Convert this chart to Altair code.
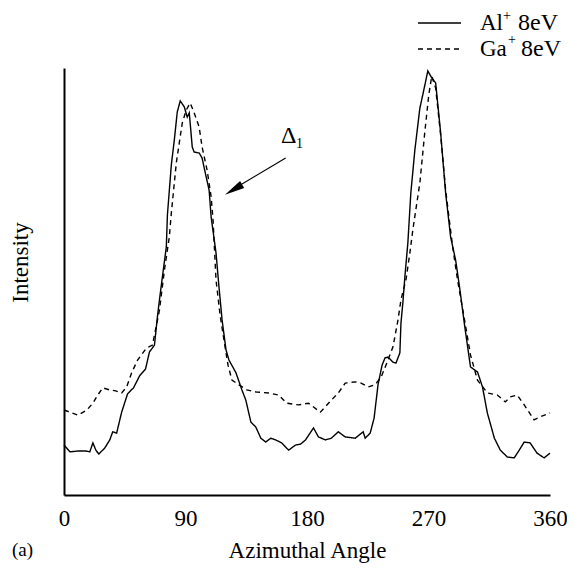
import altair as alt
import pandas as pd

# Al+ 8eV (solid)
al_angle = [0, 4.4, 10.3, 16.2, 19.1, 21.4, 23.6, 25.8, 30.2, 33.9, 36.1, 39.0, 42.7, 47.1, 51.5, 56.0,
            60.4, 63.3, 67.0, 69.2, 70.7, 72.9, 75.8, 76.6, 79.5, 81.7, 83.9, 86.1, 89.1, 91.3, 92.8,
            95.0, 96.4, 100.1, 102.3, 105.3, 107.5, 109.0, 112.6, 114.8, 117.1, 120.0, 122.2, 127.4,
            131.8, 134.7, 138.4, 142.1, 145.8, 149.5, 153.1, 156.8, 161.2, 166.4, 171.5, 175.2, 178.9,
            184.8, 188.5, 193.6, 198.0, 203.2, 208.3, 215.7, 221.6, 223.1, 226.8, 229.7, 232.6, 235.6,
            237.8, 240.0, 243.7, 245.9, 248.8, 249.6, 251.0, 252.5, 254.7, 256.9, 259.9, 263.6, 266.5,
            269.5, 272.4, 275.3, 279.0, 282.7, 286.4, 290.1, 293.0, 296.7, 301.1, 306.3, 310.0, 313.6,
            318.8, 323.2, 328.4, 333.5, 337.2, 340.9, 345.3, 350.4, 355.6, 360.0]
al_int = [11.7, 10.1, 10.3, 10.3, 10.1, 12.2, 10.5, 9.6, 11.0, 12.9, 14.8, 14.5, 19.4, 23.7, 25.1, 27.9,
          29.5, 33.5, 35.1, 41.7, 45.7, 51.1, 58.1, 65.6, 77.3, 83.1, 89.7, 92.3, 90.9, 88.5, 89.5,
          81.5, 80.3, 80.1, 78.9, 74.5, 71.4, 65.1, 56.7, 48.7, 41.0, 34.0, 31.6, 28.6,
          24.6, 22.2, 17.1, 15.9, 13.3, 12.4, 13.3, 12.9, 12.2, 10.5, 11.7, 11.9, 12.9,
          15.7, 13.6, 12.9, 13.3, 14.8, 13.6, 13.3, 14.8, 13.3, 14.5, 18.0, 25.8, 30.4,
          32.1, 32.3, 31.1, 30.9, 33.3, 40.3, 45.0, 51.1, 59.0, 70.7, 80.8, 90.6, 94.8,
          99.3, 97.7, 96.5, 84.8, 70.7, 60.4, 55.0, 48.7, 39.8, 30.0, 28.8, 25.3, 19.2,
          13.3, 10.5, 8.9, 8.7, 10.5, 12.4, 12.2, 9.8, 8.7, 9.8]

# Ga+ 8eV (dashed)
ga_angle = [0, 4.4, 10.3, 16.9, 21.4, 25.0, 28.7, 33.9, 38.3, 42.7, 46.4, 50.1, 54.5, 61.1, 65.5, 68.5,
            70.7, 74.4, 78.0, 79.5, 83.2, 87.6, 90.6, 93.5, 96.4, 100.1, 102.3, 106.0, 109.0, 110.4,
            112.6, 115.6, 118.5, 121.5, 124.4, 129.6, 135.5, 142.8, 151.7, 159.0, 164.9, 173.7, 181.1,
            189.9, 198.0, 203.2, 208.3, 215.7, 220.1, 225.3, 230.4, 234.9, 240.0, 243.7, 247.4, 249.6,
            253.3, 256.2, 258.4, 263.6, 267.2, 270.2, 272.4, 275.3, 279.0, 282.7, 285.7, 287.9, 291.5,
            296.7, 301.1, 306.3, 313.6, 321.0, 326.9, 330.6, 335.7, 340.9, 348.2, 352.6, 360.0]
ga_int = [19.9, 19.4, 18.7, 19.9, 21.5, 23.4, 25.1, 24.6, 24.4, 23.9, 25.3, 28.6, 31.6, 34.4, 35.1, 39.8,
          43.3, 52.7, 60.4, 66.0, 77.8, 87.1, 90.2, 91.8, 89.5, 86.2, 81.5, 76.1, 69.8, 64.4,
          50.4, 42.2, 36.3, 30.4, 26.9, 25.8, 24.6, 24.1, 23.9, 23.4, 21.5, 21.1, 21.5,
          19.4, 22.2, 23.9, 26.2, 26.5, 26.2, 25.3, 25.8, 27.6, 31.6, 34.7, 41.0, 45.7,
          50.4, 56.7, 62.1, 73.1, 84.8, 93.7, 98.1, 95.3, 84.3, 71.4, 63.7, 58.1, 50.4,
          41.0, 32.8, 26.9, 23.9, 23.4, 21.8, 23.0, 23.4, 21.1, 17.6, 18.3, 19.2]

x_ticks = [0, 90, 180, 270, 360]

FONT = "Liberation Serif"

df = pd.concat([
    pd.DataFrame({"angle": al_angle, "intensity": al_int, "series": "Al"}),
    pd.DataFrame({"angle": ga_angle, "intensity": ga_int, "series": "Ga"}),
])

lines = alt.Chart(df).mark_line(color="black", strokeWidth=1.4).encode(
    x=alt.X("angle:Q", scale=alt.Scale(domain=[0, 360], nice=False, zero=False),
            axis=alt.Axis(values=x_ticks, title="Azimuthal Angle", ticks=False, grid=False,
                          labelFont=FONT, labelFontSize=23, labelPadding=12, labelFlush=False,
                          labelColor="black", labelOverlap=False,
                          titleFont=FONT, titleFontSize=23, titleFontWeight="normal", titleColor="black",
                          titleY=55, titleBaseline="middle",
                          domainColor="black", domainWidth=2)),
    y=alt.Y("intensity:Q", scale=alt.Scale(domain=[0, 100], nice=False, zero=False),
            axis=alt.Axis(labels=False, ticks=False, grid=False, title="Intensity",
                          titleFont=FONT, titleFontSize=23, titleFontWeight="normal", titleColor="black",
                          titleAngle=270, titleX=-44, titleY=194, titleAlign="center",
                          titleBaseline="middle", domainColor="black", domainWidth=2)),
    strokeDash=alt.StrokeDash("series:N", scale=alt.Scale(domain=["Al", "Ga"], range=[[1, 0], [5, 4]]),
                              legend=None),
    detail="series:N",
)

one = pd.DataFrame({"k": [0]})

# arrow annotation
arrow_line = alt.Chart(one).mark_rule(color="black", strokeWidth=1.2).encode(
    x=alt.datum(164.2), y=alt.datum(78.9), x2=alt.datum(130.0), y2=alt.datum(72.5))
arrow_head = alt.Chart(one).mark_point(shape="M0,-1L0.4,1L-0.4,1Z", filled=True, size=400, angle=239,
                                       color="black", opacity=1).encode(
    x=alt.datum(125.6), y=alt.datum(71.5))
delta = alt.Chart(one).mark_text(text="Δ", font=FONT, fontSize=24, align="center", baseline="alphabetic",
                                 color="black").encode(x=alt.datum(166.4), y=alt.datum(82.4))
delta_sub = alt.Chart(one).mark_text(text="1", font=FONT, fontSize=14, align="center", baseline="alphabetic",
                                     color="black").encode(x=alt.datum(174.5), y=alt.datum(81.3))


def txt(t, x, y, size=23, baseline="alphabetic"):
    return alt.Chart(one).mark_text(text=t, font=FONT, fontSize=size, align="left", baseline=baseline,
                                    color="black").encode(x=alt.value(x), y=alt.value(y))


# legend
leg_al = alt.Chart(one).mark_rule(color="black", strokeWidth=1.4).encode(
    x=alt.value(354), x2=alt.value(397), y=alt.value(-45))
leg_ga = alt.Chart(one).mark_rule(color="black", strokeWidth=1.4, strokeDash=[5, 4]).encode(
    x=alt.value(354), x2=alt.value(397), y=alt.value(-19))

panel = txt("(a)", -52, 482, size=19, baseline="middle")

chart = alt.layer(
    lines, arrow_line, arrow_head, delta, delta_sub,
    leg_al, leg_ga,
    txt("Al", 416, -38), txt("+", 439, -52, size=14, baseline="middle"), txt("8eV", 454, -38, size=24),
    txt("Ga", 416, -12), txt("+", 444, -28, size=14, baseline="middle"), txt("8eV", 457, -12, size=24),
    panel,
).properties(
    width=486, height=427, autosize="none",
    padding={"left": 56, "top": 60, "right": 17, "bottom": 70},
).configure_view(stroke=None)

chart.save("out.html", embed_options={"renderer": "svg", "actions": False})
